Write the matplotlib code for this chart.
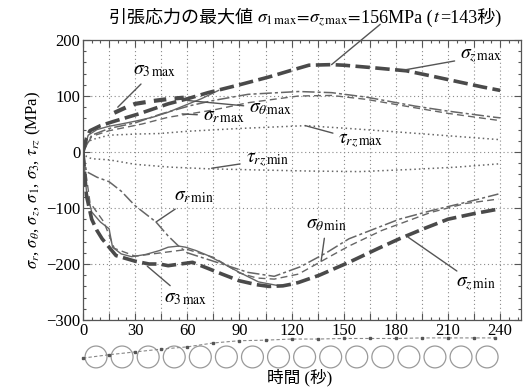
import numpy as np
import matplotlib
matplotlib.use("Agg")
from matplotlib import pyplot as plt
from matplotlib.ticker import MultipleLocator, FuncFormatter
from matplotlib.patches import Ellipse
from matplotlib.offsetbox import TextArea, HPacker, AnchoredOffsetbox

plt.rcParams['font.family'] = ['Liberation Serif', 'Noto Sans CJK JP', 'DejaVu Sans']
plt.rcParams['mathtext.fontset'] = 'stix'

###### stress histories (MPa) vs time (s) ######
t_zmax = [0, 2, 4, 10, 17, 32, 49, 60, 72, 90, 107, 120, 130, 143, 150, 165, 186, 200, 215, 230, 240]
s_zmax = [0, 25, 38, 47, 54, 68, 86, 95, 106, 120, 134, 146, 155, 156, 155, 151, 145, 136, 126, 116, 110]

t_3max_up = [18, 25, 30, 40, 50, 58]
s_3max_up = [70, 80, 86, 91, 95, 97]

t_1max = [0, 3, 8, 15, 22, 30, 40, 49, 60, 68, 78]
s_1max = [0, 30, 40, 46, 50, 55, 62, 71, 85, 95, 110]

t_thmax = [0, 5, 15, 30, 45, 62, 75, 95, 124, 143, 163, 191, 210, 237, 240]
s_thmax = [0, 30, 42, 52, 68, 83, 92, 103, 108, 106, 98, 82, 73, 62, 61]

t_rmax = [0, 5, 15, 34, 49, 61, 75, 95, 124, 143, 163, 191, 210, 240]
s_rmax = [0, 28, 38, 50, 62, 68, 75, 88, 100, 101, 94, 79, 69, 56]

t_trzmax = [0, 2, 5, 15, 30, 44, 60, 90, 120, 128, 153, 180, 210, 240]
s_trzmax = [0, 15, 22, 30, 32, 33, 37, 42, 46, 47, 42, 36, 29, 22]

t_trzmin = [0, 2, 5, 15, 30, 50, 72, 100, 130, 159, 190, 215, 240]
s_trzmin = [0, -8, -12, -14, -22, -27, -30, -32, -34, -35, -31, -27, -21]

t_zmin = [0, 1, 2, 5, 8, 11, 15, 19, 30, 38, 44, 49, 56, 63, 72, 80, 90, 100, 107, 115, 120,
          124, 136, 153, 170, 182, 196, 210, 225, 239]
s_zmin = [0, -40, -78, -120, -140, -155, -170, -185, -195, -200, -200, -203, -200, -197, -208,
          -218, -230, -237, -240, -239, -236, -233, -220, -197, -172, -155, -137, -120, -110, -102]

t_1min = [0, 2, 5, 10, 15, 17, 22, 28, 36, 44, 49, 55, 59, 65, 72, 80, 90, 101, 113]
s_1min = [0, -70, -107, -125, -137, -170, -182, -187, -183, -176, -170, -168, -170, -176, -185,
          -198, -215, -232, -239]

t_thmin = [0, 4, 12, 18, 30, 45, 60, 75, 90, 100, 110, 124, 143, 153, 172, 200, 220, 239]
s_thmin = [0, -90, -125, -172, -186, -180, -174, -188, -216, -225, -227, -218, -185, -168,
           -140, -108, -92, -84]

t_rmin = [0, 2, 8, 15, 22, 30, 42, 49, 55, 60, 70, 80, 95, 110, 125, 140, 153, 182, 200, 224, 239]
s_rmin = [0, -35, -45, -53, -70, -96, -125, -150, -168, -180, -190, -200, -215, -222, -205,
          -180, -155, -120, -105, -87, -75]

# cross-section sketches under the time axis
circle_t = [7.5, 22.5, 37.5, 52.5, 67.5, 82.5, 97.5, 112.5, 127.5, 142.5, 157.5, 172.5,
            187.5, 202.5, 217.5, 232.5]
trace_t = [0, 15, 30, 45, 60, 75, 90, 105, 120, 135, 150, 165, 180, 195, 210, 225, 237]
trace_s = [-368, -362, -357, -352, -348, -341, -337, -336, -334, -334, -333, -333, -333,
           -332, -332, -332, -332]

peak_t = 143
peak_s = 156

dark = '#4a4a4a'
mid = '#666666'

fig = plt.figure(figsize=(5.26, 3.88), dpi=100)
ax = fig.add_axes([83/526, 1-320/388, 438/526, 280/388])

ax.plot(t_trzmax, s_trzmax, ls=(0, (1, 2)), color=mid, lw=1.1)
ax.plot(t_trzmin, s_trzmin, ls=(0, (1, 2)), color=mid, lw=1.1)
ax.plot(t_rmax, s_rmax, ls=(0, (5, 3)), color=mid, lw=1.0)
ax.plot(t_thmax, s_thmax, ls=(0, (8, 2, 2, 2)), color=mid, lw=1.1)
ax.plot(t_1max, s_1max, ls='-', color=mid, lw=1.0)
ax.plot(t_zmax, s_zmax, ls=(0, (4, 1.5)), color=dark, lw=2.6)
ax.plot(t_3max_up, s_3max_up, ls=(0, (3, 2)), color=dark, lw=3.0)
ax.plot(t_rmin, s_rmin, ls=(0, (8, 2, 2, 2)), color=mid, lw=1.1)
ax.plot(t_thmin, s_thmin, ls=(0, (5, 3)), color=mid, lw=1.0)
ax.plot(t_1min, s_1min, ls='-', color=mid, lw=1.0)
ax.plot(t_zmin, s_zmin, ls=(0, (4, 1.5)), color=dark, lw=2.6)

ax.set_xlim(0, 252)
ax.set_ylim(-300, 200)
ax.xaxis.set_major_locator(MultipleLocator(15))
ax.xaxis.set_minor_locator(MultipleLocator(5))
ax.yaxis.set_major_locator(MultipleLocator(100))
ax.yaxis.set_minor_locator(MultipleLocator(20))
ax.xaxis.set_major_formatter(FuncFormatter(lambda v, p: '%d' % v if v % 30 == 0 else ''))
ax.yaxis.set_major_formatter(FuncFormatter(lambda v, p: ('%d' % v).replace('-', '\u2212')))
ax.tick_params(which='both', direction='in', top=True, right=True, colors='#555555',
               labelcolor='black', labelsize=12, pad=2)
ax.tick_params(which='major', length=5, width=0.8)
ax.tick_params(which='minor', length=2.5, width=0.8)
ax.grid(True, which='major', ls=(0, (1, 2.5)), color='#8a8a8a', lw=0.8)
for sp in ax.spines.values():
    sp.set_color('#555555')
    sp.set_linewidth(0.9)

ax.set_ylabel(r'$\sigma_r$, $\sigma_\theta$, $\sigma_z$, $\sigma_1$, $\sigma_3$, $\tau_{rz}$ (MPa)',
              fontsize=12, labelpad=2)
fig.text(300/526, 1-378/388, '時間 (秒)', ha='center', va='center', fontsize=12)

# leader-line labels
lab = dict(ha='center', va='center', fontsize=14,
           arrowprops=dict(arrowstyle='-', color='#555555', lw=1.0, shrinkA=2, shrinkB=0))
ax.annotate(r'$\sigma_{z\,\mathrm{max}}$', xy=(184, 146), xytext=(229, 171), **lab)
ax.annotate(r'$\sigma_{3\,\mathrm{max}}$', xy=(20, 80), xytext=(41, 145), **lab)
ax.annotate(r'$\sigma_{r\,\mathrm{max}}$', xy=(57, 68), xytext=(81, 64), **lab)
ax.annotate(r'$\sigma_{\theta\,\mathrm{max}}$', xy=(60, 92), xytext=(108, 78), **lab)
ax.annotate(r'$\tau_{rz\,\mathrm{max}}$', xy=(128, 47), xytext=(160, 20), **lab)
ax.annotate(r'$\tau_{rz\,\mathrm{min}}$', xy=(74, -29), xytext=(106, -14), **lab)
ax.annotate(r'$\sigma_{r\,\mathrm{min}}$', xy=(42, -125), xytext=(64, -79), **lab)
ax.annotate(r'$\sigma_{3\,\mathrm{max}}$', xy=(37, -204), xytext=(59, -262), **lab)
ax.annotate(r'$\sigma_{\theta\,\mathrm{min}}$', xy=(137, -195), xytext=(140, -129), **lab)
ax.annotate(r'$\sigma_{z\,\mathrm{min}}$', xy=(187, -152), xytext=(226, -236), **lab)

# peak tensile stress line: CJK and mathtext pieces packed side by side
tp = dict(fontsize=13)
pieces = [TextArea('引張応力の最大値 ', textprops=tp),
          TextArea(r'$\sigma_{1\,\mathrm{max}}\!=\!\sigma_{z\,\mathrm{max}}\!=\!$', textprops=tp),
          TextArea('%dMPa (' % peak_s, textprops=tp),
          TextArea(r'$t$', textprops=tp),
          TextArea('=%d秒)' % peak_t, textprops=tp)]
box = HPacker(children=pieces, sep=0, pad=0, align='baseline')
fig.add_artist(AnchoredOffsetbox(loc='center', child=box, pad=0, borderpad=0, frameon=False,
                                 bbox_to_anchor=(305/526, 1-18/388),
                                 bbox_transform=fig.transFigure))
ax.annotate('', xy=(peak_t, peak_s), xytext=(171, 228), annotation_clip=False,
            arrowprops=dict(arrowstyle='-', color='#555555', lw=1.0, shrinkA=0, shrinkB=0))

# cross-section circles and trace below the axis
for ct in circle_t:
    ax.add_patch(Ellipse((ct, -366), 12.6, 39, fill=False, ec='#9a9a9a', lw=0.9, clip_on=False))
ax.plot(trace_t, trace_s, ls=(0, (3, 2)), color='#888888', lw=0.8, marker='s', ms=2,
        mfc='#555555', mec='#555555', clip_on=False)

fig.savefig('out.png', dpi=100, facecolor='white')
